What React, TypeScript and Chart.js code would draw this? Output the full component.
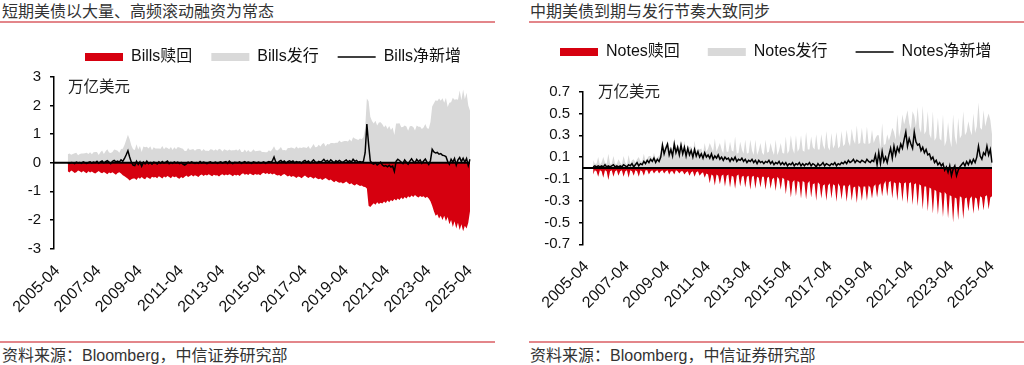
import React, { useEffect, useRef } from 'react';
import { Chart, registerables } from 'chart.js';

Chart.register(...registerables);

const FONT = '"Liberation Sans", "Noto Sans CJK SC", sans-serif';
Chart.defaults.font.family = FONT;

const RED = '#d6000f';
const GRAY = '#d9d9d9';

// monthly categories 2005-02 .. 2025-04
const months: string[] = [];
for (let y = 2005; y <= 2025; y++) {
  for (let m = 1; m <= 12; m++) {
    if (y === 2005 && m < 2) continue;
    if (y === 2025 && m > 4) continue;
    months.push(`${y}-${String(m).padStart(2, '0')}`);
  }
}

const xTickLabels = ['2005-04', '2007-04', '2009-04', '2011-04', '2013-04', '2015-04', '2017-04', '2019-04', '2021-04', '2023-04', '2025-04'];

const billsYTicks = [-3, -2, -1, 0, 1, 2, 3];
const notesYTicks = [-0.7, -0.5, -0.3, -0.1, 0.1, 0.3, 0.5, 0.7];

// 短期美债（Bills）赎回，万亿美元（2005-02 起，逐月）
const billsRedeem: (number | null)[] = [
  null, null, null, null, null, null, null, null, -0.30, -0.34, -0.27,
  -0.31, -0.36, -0.33, -0.27, -0.30, -0.34, -0.29, -0.33, -0.37, -0.30, -0.34, -0.31,
  -0.35, -0.38, -0.33, -0.29, -0.34, -0.37, -0.32, -0.36, -0.40, -0.34, -0.37, -0.33,
  -0.38, -0.42, -0.36, -0.33, -0.38, -0.44, -0.47, -0.52, -0.56, -0.62, -0.58, -0.55,
  -0.55, -0.60, -0.52, -0.56, -0.50, -0.55, -0.58, -0.50, -0.53, -0.57, -0.49, -0.52,
  -0.50, -0.54, -0.47, -0.51, -0.55, -0.48, -0.52, -0.46, -0.50, -0.54, -0.47, -0.51,
  -0.48, -0.53, -0.56, -0.50, -0.54, -0.49, -0.45, -0.50, -0.46, -0.43, -0.48, -0.44,
  -0.46, -0.50, -0.44, -0.41, -0.46, -0.42, -0.45, -0.40, -0.44, -0.47, -0.42, -0.45,
  -0.44, -0.48, -0.43, -0.40, -0.45, -0.41, -0.44, -0.40, -0.43, -0.47, -0.42, -0.45,
  -0.42, -0.46, -0.40, -0.37, -0.42, -0.39, -0.43, -0.38, -0.41, -0.44, -0.39, -0.42,
  -0.40, -0.44, -0.38, -0.35, -0.39, -0.36, -0.40, -0.37, -0.41, -0.38, -0.42, -0.45,
  -0.43, -0.47, -0.42, -0.39, -0.44, -0.48, -0.45, -0.50, -0.46, -0.49, -0.53, -0.48,
  -0.50, -0.54, -0.49, -0.45, -0.50, -0.53, -0.49, -0.52, -0.56, -0.51, -0.55, -0.58,
  -0.55, -0.60, -0.57, -0.53, -0.58, -0.62, -0.59, -0.64, -0.68, -0.63, -0.67, -0.70,
  -0.68, -0.73, -0.70, -0.66, -0.71, -0.75, -0.72, -0.77, -0.80, -0.74, -0.78, -0.81,
  -0.80, -0.84, -0.85, -0.90, -1.50, -1.55, -1.48, -1.42, -1.47, -1.38, -1.44, -1.40,
  -1.43, -1.36, -1.41, -1.32, -1.38, -1.30, -1.35, -1.27, -1.32, -1.25, -1.30, -1.22,
  -1.28, -1.20, -1.25, -1.17, -1.22, -1.15, -1.20, -1.13, -1.18, -1.22, -1.16, -1.20,
  -1.17, -1.23, -1.19, -1.25, -1.35, -1.50, -1.70, -1.85, -1.80, -1.95, -1.85, -2.00,
  -1.85, -2.05, -1.90, -2.15, -2.00, -2.25, -2.05, -2.30, -2.10, -2.35, -2.15, -2.40,
  -2.20, -2.30, -2.10, -1.70,
];

// 短期美债净新增
const billsNet: (number | null)[] = [
  null, null, null, null, null, null, null, null, 0.00, -0.02, 0.01,
  0.00, -0.03, 0.02, -0.01, 0.01, -0.02, 0.03, 0.00, -0.02, 0.01, 0.03, -0.01,
  0.02, 0.00, 0.05, -0.02, 0.03, 0.06, -0.01, 0.04, 0.07, 0.02, -0.03, 0.05,
  0.08, 0.03, 0.06, 0.02, 0.10, 0.05, 0.15, 0.28, 0.42, 0.20, 0.02, -0.08,
  -0.10, 0.05, -0.06, 0.03, -0.12, 0.02, -0.04, 0.06, -0.03, 0.01, -0.05, 0.02,
  0.00, -0.04, 0.03, -0.02, 0.04, -0.01, 0.02, 0.06, -0.03, 0.01, -0.02, 0.03,
  -0.01, 0.02, -0.03, 0.01, -0.05, -0.08, -0.04, 0.02, -0.01, 0.03, 0.00, -0.02,
  0.01, -0.02, 0.04, -0.01, 0.02, 0.00, -0.03, 0.01, 0.03, -0.01, 0.00, 0.02,
  -0.02, 0.01, 0.03, -0.01, 0.02, 0.04, -0.02, 0.06, 0.00, -0.03, 0.02, 0.01,
  0.00, 0.03, -0.02, 0.01, 0.04, -0.01, 0.02, 0.00, -0.02, 0.03, 0.01, -0.01,
  0.02, -0.01, 0.00, 0.03, -0.02, 0.01, 0.04, 0.02, 0.06, 0.20, 0.03, -0.02,
  0.05, 0.08, 0.02, 0.06, -0.01, 0.04, 0.07, 0.03, 0.06, 0.00, 0.04, 0.02,
  0.03, -0.02, 0.05, 0.08, 0.02, 0.06, -0.01, 0.04, 0.10, 0.03, 0.00, 0.05,
  0.02, 0.06, 0.12, 0.04, 0.08, 0.02, 0.10, 0.05, 0.00, 0.07, 0.03, 0.08,
  0.04, 0.01, 0.06, 0.10, 0.03, 0.07, 0.02, 0.12, 0.05, 0.08, 0.02, 0.04,
  0.02, 0.05, 0.35, 1.35, 0.65, 0.06, -0.02, -0.05, 0.00, -0.08, -0.03, 0.02,
  -0.08, -0.12, -0.10, -0.14, -0.09, -0.15, -0.12, -0.30, 0.05, 0.12, 0.08, 0.02,
  -0.03, 0.10, 0.02, -0.05, 0.06, 0.14, 0.05, 0.00, 0.12, 0.04, 0.10, -0.02,
  0.06, 0.13, 0.02, -0.06, 0.08, 0.47, 0.38, 0.34, 0.36, 0.30, 0.32, 0.26,
  0.25, 0.22, 0.05, -0.05, 0.12, 0.02, 0.15, -0.08, 0.10, 0.18, 0.04, 0.16,
  0.02, 0.15, -0.10, 0.12,
];

// 中期美债（Notes）赎回
const notesRedeem: (number | null)[] = [
  null, null, null, null, null, null, -0.06, -0.02, -0.03, -0.08, -0.02,
  -0.03, -0.09, -0.02, -0.03, -0.11, -0.03, -0.02, -0.08, -0.03, -0.02, -0.07, -0.03,
  -0.02, -0.08, -0.03, -0.02, -0.09, -0.02, -0.03, -0.07, -0.02, -0.03, -0.08, -0.02,
  -0.03, -0.07, -0.02, -0.02, -0.06, -0.03, -0.02, -0.05, -0.03, -0.02, -0.05, -0.03,
  -0.02, -0.05, -0.03, -0.02, -0.06, -0.03, -0.03, -0.06, -0.02, -0.03, -0.05, -0.03,
  -0.03, -0.06, -0.04, -0.03, -0.07, -0.04, -0.03, -0.08, -0.04, -0.03, -0.07, -0.05,
  -0.04, -0.09, -0.05, -0.06, -0.14, -0.06, -0.07, -0.16, -0.06, -0.07, -0.15, -0.07,
  -0.06, -0.17, -0.07, -0.06, -0.18, -0.07, -0.08, -0.19, -0.07, -0.06, -0.17, -0.08,
  -0.07, -0.18, -0.08, -0.07, -0.20, -0.08, -0.07, -0.19, -0.08, -0.09, -0.18, -0.08,
  -0.08, -0.20, -0.09, -0.08, -0.19, -0.10, -0.09, -0.21, -0.08, -0.10, -0.20, -0.09,
  -0.10, -0.24, -0.11, -0.12, -0.27, -0.13, -0.11, -0.26, -0.12, -0.13, -0.28, -0.12,
  -0.13, -0.29, -0.14, -0.12, -0.27, -0.15, -0.14, -0.30, -0.13, -0.15, -0.28, -0.16,
  -0.15, -0.30, -0.16, -0.14, -0.28, -0.15, -0.16, -0.31, -0.14, -0.17, -0.29, -0.16,
  -0.16, -0.31, -0.17, -0.15, -0.30, -0.18, -0.17, -0.32, -0.16, -0.18, -0.30, -0.17,
  -0.17, -0.30, -0.16, -0.18, -0.28, -0.17, -0.15, -0.27, -0.16, -0.14, -0.26, -0.15,
  -0.12, -0.26, -0.13, -0.12, -0.28, -0.13, -0.14, -0.30, -0.13, -0.14, -0.31, -0.14,
  -0.13, -0.33, -0.14, -0.13, -0.34, -0.15, -0.14, -0.35, -0.15, -0.16, -0.38, -0.17,
  -0.17, -0.40, -0.18, -0.19, -0.42, -0.20, -0.21, -0.43, -0.22, -0.23, -0.45, -0.22,
  -0.24, -0.46, -0.25, -0.26, -0.50, -0.27, -0.28, -0.48, -0.26, -0.27, -0.47, -0.28,
  -0.27, -0.40, -0.28, -0.26, -0.42, -0.27, -0.28, -0.40, -0.26, -0.27, -0.39, -0.26,
  -0.25, -0.38, -0.27, -0.26,
];

// 中期美债净新增
const notesNet: (number | null)[] = [
  null, null, null, null, null, null, 0.01, 0.02, 0.01, 0.02, 0.01,
  0.02, 0.01, 0.03, 0.01, 0.02, 0.01, 0.02, 0.03, 0.01, 0.02, 0.01, 0.02,
  0.01, 0.03, 0.02, 0.01, 0.03, 0.02, 0.04, 0.01, 0.03, 0.05, 0.02, 0.04,
  0.03, 0.06, 0.04, 0.07, 0.05, 0.08, 0.06, 0.09, 0.05, 0.08, 0.06, 0.10,
  0.21, 0.13, 0.18, 0.22, 0.12, 0.17, 0.11, 0.22, 0.14, 0.19, 0.12, 0.21,
  0.13, 0.19, 0.11, 0.18, 0.12, 0.16, 0.10, 0.17, 0.11, 0.15, 0.10, 0.13,
  0.09, 0.14, 0.10, 0.12, 0.09, 0.13, 0.08, 0.11, 0.09, 0.12, 0.08, 0.10,
  0.07, 0.10, 0.08, 0.09, 0.06, 0.09, 0.07, 0.10, 0.06, 0.08, 0.07, 0.09,
  0.06, 0.08, 0.05, 0.07, 0.06, 0.08, 0.05, 0.07, 0.04, 0.07, 0.05, 0.06,
  0.04, 0.06, 0.05, 0.07, 0.04, 0.06, 0.03, 0.05, 0.04, 0.06, 0.03, 0.05,
  0.03, 0.05, 0.02, 0.04, 0.03, 0.05, 0.02, 0.04, 0.03, 0.05, 0.02, 0.04,
  0.02, 0.04, 0.03, 0.05, 0.02, 0.04, 0.03, 0.01, 0.04, 0.02, 0.03, 0.05,
  0.02, 0.04, 0.03, 0.02, 0.04, 0.03, 0.05, 0.02, 0.04, 0.03, 0.05, 0.04,
  0.06, 0.04, 0.07, 0.05, 0.06, 0.08, 0.05, 0.07, 0.06, 0.05, 0.07, 0.06,
  0.05, 0.08, 0.06, 0.05, 0.07, 0.06, 0.12, 0.03, 0.14, 0.04, 0.15, 0.06,
  0.10, 0.05, 0.12, 0.18, 0.09, 0.20, 0.12, 0.19, 0.15, 0.22, 0.18, 0.26,
  0.33, 0.20, 0.27, 0.22, 0.18, 0.33, 0.24, 0.21, 0.22, 0.16, 0.19, 0.14,
  0.17, 0.12, 0.13, 0.08, 0.10, 0.05, 0.07, 0.03, 0.05, 0.02, 0.04, -0.02,
  0.01, -0.04, 0.02, -0.07, -0.01, 0.02, -0.07, -0.02, 0.01, 0.03, 0.05, 0.02,
  0.06, 0.03, 0.07, 0.04, 0.08, 0.05, 0.10, 0.20, 0.11, 0.08, 0.14, 0.12,
  0.20, 0.12, 0.17, 0.05,
];

// 发行 = 净新增 − 赎回
const issueFrom = (net: (number | null)[], redeem: (number | null)[]) =>
  net.map((n, i) => (n === null || redeem[i] === null ? null : Math.round((n - (redeem[i] as number)) * 100) / 100));

const billsIssue = issueFrom(billsNet, billsRedeem);
const notesIssue = issueFrom(notesNet, notesRedeem);

const zeroLinePlugin = {
  id: 'zeroLine',
  afterDatasetsDraw(chart: any) {
    const { ctx, chartArea, scales } = chart;
    const y = scales.y.getPixelForValue(0);
    ctx.save();
    ctx.strokeStyle = '#000';
    ctx.lineWidth = 2;
    ctx.beginPath();
    ctx.moveTo(chartArea.left, y);
    ctx.lineTo(chartArea.right, y);
    ctx.stroke();
    ctx.restore();
  },
};

type Cfg = {
  x: number; y: number; w: number; h: number;
  yWidth: number; padRight: number; legendH: number; legendPad: number; legendStart: number; xHeight: number;
  yMin: number; yMax: number; yTicks: number[];
  names: string[]; redeem: (number | null)[]; issue: (number | null)[]; net: (number | null)[];
};

function AreaChart({ cfg }: { cfg: Cfg }) {
  const ref = useRef<HTMLCanvasElement>(null);
  useEffect(() => {
    const legendFixPlugin = {
      id: 'legendFix',
      beforeInit(chart: any) {
        const lg = chart.legend;
        if (lg) {
          const orig = lg.fit;
          lg.fit = function () {
            this.maxWidth = 2000;
            orig.call(this);
            this.height = cfg.legendH;
          };
        }
      },
      afterLayout(chart: any) {
        const lg = chart.legend;
        if (lg) {
          lg.left = cfg.legendStart - cfg.legendPad;
          lg.right = lg.left + 2000;
        }
      },
    };
    const chart = new Chart(ref.current as HTMLCanvasElement, {
      type: 'line',
      data: {
        labels: months,
        datasets: [
          { label: cfg.names[0], data: cfg.redeem, fill: 'origin', backgroundColor: RED, borderColor: 'rgba(0,0,0,0)', borderWidth: 0, pointRadius: 0, tension: 0, order: 2 } as any,
          { label: cfg.names[1], data: cfg.issue, fill: 'origin', backgroundColor: GRAY, borderColor: 'rgba(0,0,0,0)', borderWidth: 0, pointRadius: 0, tension: 0, order: 3 } as any,
          { label: cfg.names[2], data: cfg.net, fill: false, borderColor: '#000', borderWidth: 1.5, pointRadius: 0, tension: 0, order: 1 } as any,
        ],
      },
      options: {
        responsive: false,
        animation: false,
        events: [],
        layout: { padding: { left: 0, right: cfg.padRight, top: 0, bottom: 0 } },
        plugins: {
          tooltip: { enabled: false },
          legend: {
            display: true,
            position: 'top',
            align: 'start',
            labels: {
              usePointStyle: true,
              pointStyleWidth: 38,
              boxWidth: 38,
              boxHeight: 8,
              padding: cfg.legendPad,
              color: '#111',
              font: { size: 16, family: FONT },
              generateLabels: (chart: any) =>
                chart.data.datasets.map((ds: any, i: number) => ({
                  text: ds.label,
                  datasetIndex: i,
                  hidden: false,
                  fillStyle: ds.fill ? ds.backgroundColor : 'rgba(0,0,0,0)',
                  strokeStyle: ds.fill ? 'rgba(0,0,0,0)' : '#000',
                  lineWidth: ds.fill ? 0 : 1.5,
                  pointStyle: ds.fill ? 'rect' : 'line',
                  fontColor: '#111',
                })),
            },
          },
        },
        scales: {
          x: {
            type: 'category',
            afterFit: (axis: any) => { axis.height = cfg.xHeight; },
            border: { display: false },
            grid: { display: false, drawTicks: false },
            ticks: {
              autoSkip: false,
              maxRotation: 45,
              minRotation: 45,
              padding: 13,
              color: '#111',
              font: { size: 16, family: FONT },
              callback: (v: any) => {
                const l = months[v as number];
                return xTickLabels.includes(l) ? l : null;
              },
            },
          },
          y: {
            min: cfg.yMin,
            max: cfg.yMax,
            afterBuildTicks: (axis: any) => { axis.ticks = cfg.yTicks.map((v) => ({ value: v })); },
            afterFit: (axis: any) => { axis.width = cfg.yWidth; },
            border: { display: true, color: '#000', width: 1.5 },
            grid: { display: true, drawOnChartArea: false, drawTicks: true, tickLength: 4, color: '#000', lineWidth: 1.5 },
            ticks: {
              padding: 9,
              color: '#111',
              font: { size: 15, family: FONT },
              callback: (v: any) => String(Math.round(Number(v) * 10) / 10),
            },
          },
        },
      } as any,
      plugins: [legendFixPlugin, zeroLinePlugin],
    });
    return () => chart.destroy();
  }, []);
  return (
    <canvas
      ref={ref}
      width={cfg.w}
      height={cfg.h}
      style={{ position: 'absolute', left: cfg.x, top: cfg.y, width: cfg.w, height: cfg.h }}
    />
  );
}

const billsCfg: Cfg = {
  x: 0, y: 30, w: 500, h: 290,
  yWidth: 54, padRight: 30, legendH: 47, legendPad: 19, legendStart: 85, xHeight: 71.5,
  yMin: -3, yMax: 3, yTicks: billsYTicks,
  names: ['Bills赎回', 'Bills发行', 'Bills净新增'],
  redeem: billsRedeem, issue: billsIssue, net: billsNet,
};

const notesCfg: Cfg = {
  x: 512, y: 16, w: 512, h: 300,
  yWidth: 71, padRight: 32, legendH: 75.7, legendPad: 28, legendStart: 48, xHeight: 71.7,
  yMin: -0.7, yMax: 0.7, yTicks: notesYTicks,
  names: ['Notes赎回', 'Notes发行', 'Notes净新增'],
  redeem: notesRedeem, issue: notesIssue, net: notesNet,
};

const textBase: React.CSSProperties = {
  position: 'absolute',
  fontFamily: FONT,
  whiteSpace: 'nowrap',
  lineHeight: '22px',
};

export default function App() {
  return (
    <div style={{ position: 'fixed', left: 0, top: 0, width: 1024, height: 365, background: '#fff', overflow: 'hidden' }}>
      <div style={{ ...textBase, left: 2, top: 1, fontSize: 16, color: '#333' }}>短期美债以大量、高频滚动融资为常态</div>
      <div style={{ ...textBase, left: 530, top: 1, fontSize: 16, color: '#333' }}>中期美债到期与发行节奏大致同步</div>
      <div style={{ position: 'absolute', left: 0, top: 21, width: 495, height: 1.5, background: '#e3868a' }} />
      <div style={{ position: 'absolute', left: 529, top: 21, width: 495, height: 1.5, background: '#e3868a' }} />

      <AreaChart cfg={billsCfg} />
      <AreaChart cfg={notesCfg} />

      <div style={{ ...textBase, left: 68, top: 76, fontSize: 15.5, color: '#222' }}>万亿美元</div>
      <div style={{ ...textBase, left: 598, top: 81, fontSize: 15.5, color: '#222' }}>万亿美元</div>

      <div style={{ position: 'absolute', left: 0, top: 341, width: 495, height: 1.5, background: '#e3868a' }} />
      <div style={{ position: 'absolute', left: 529, top: 341, width: 495, height: 1.5, background: '#e3868a' }} />
      <div style={{ ...textBase, left: 2, top: 345, fontSize: 16, color: '#333' }}>资料来源：Bloomberg，中信证券研究部</div>
      <div style={{ ...textBase, left: 530, top: 345, fontSize: 16, color: '#333' }}>资料来源：Bloomberg，中信证券研究部</div>
    </div>
  );
}
